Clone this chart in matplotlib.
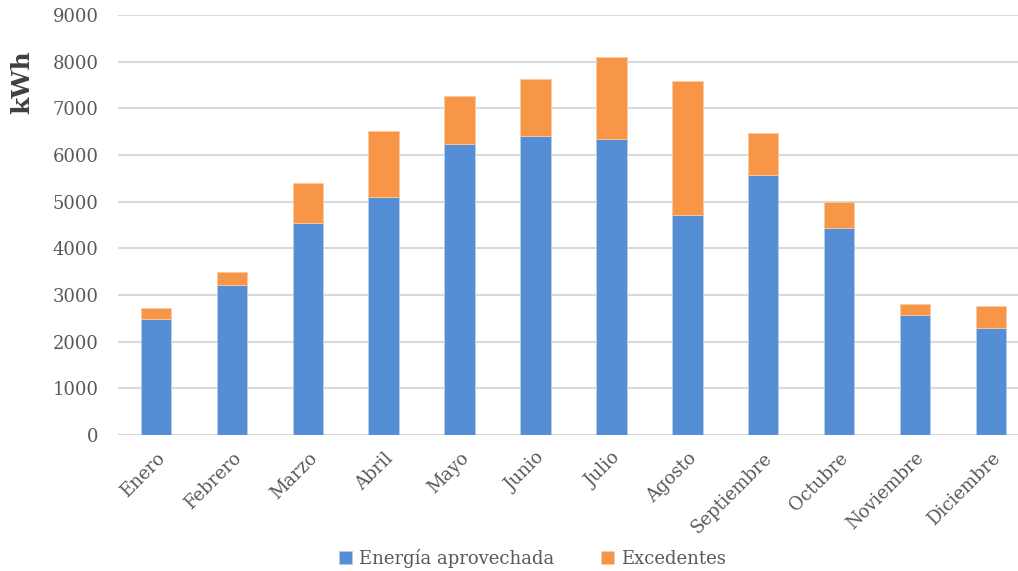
import matplotlib.pyplot as plt
import numpy as np

# Data
meses = ['Enero', 'Febrero', 'Marzo', 'Abril', 'Mayo', 'Junio', 'Julio',
         'Agosto', 'Septiembre', 'Octubre', 'Noviembre', 'Diciembre']
aprovechada = [2490, 3210, 4540, 5100, 6240, 6410, 6350, 4720, 5570, 4440, 2580, 2300]
total = [2730, 3490, 5400, 6510, 7260, 7630, 8110, 7590, 6480, 5000, 2810, 2770]
excedentes = [t - a for t, a in zip(total, aprovechada)]

plt.rcParams['font.family'] = ['DejaVu Serif']

fig = plt.figure(figsize=(10.18, 5.71), dpi=100)
ax = fig.add_axes([0.1159, 0.2382, 0.8841, 0.7355])

x = np.arange(len(meses))
ax.bar(x, aprovechada, width=0.4, color='#558ED5', edgecolor='#B4CDEE',
       linewidth=0.6, label='Energía aprovechada', zorder=3)
ax.bar(x, excedentes, width=0.4, bottom=aprovechada, color='#F79646',
       edgecolor='#FAC9A0', linewidth=0.6, label='Excedentes', zorder=3)

# Axes styling
ax.set_ylim(0, 9000)
ax.set_xlim(-0.5, 11.356)
ax.set_yticks(np.arange(0, 9001, 1000))
ax.yaxis.grid(True, color='#D9D9D9', linewidth=1.5, zorder=0)
ax.set_axisbelow(True)
for s in ax.spines.values():
    s.set_visible(False)
ax.tick_params(axis='both', length=0, colors='#595959', labelsize=13)
ax.tick_params(axis='y', pad=14)
ax.set_xticks(x)
ax.set_xticklabels(meses, rotation=45, ha='right', rotation_mode='anchor')
ax.tick_params(axis='x', pad=10)

ax.set_ylabel('kWh', fontsize=18, fontweight='bold', color='#404040')
ax.yaxis.set_label_coords(-0.093, 0.84)

fig.legend(*ax.get_legend_handles_labels(), loc='center', bbox_to_anchor=(0.523, 0.022),
           ncol=2, frameon=False, fontsize=13, labelcolor='#595959',
           handlelength=0.7, handleheight=0.7, columnspacing=2.6, handletextpad=0.4)

fig.savefig('out.png', dpi=100)
